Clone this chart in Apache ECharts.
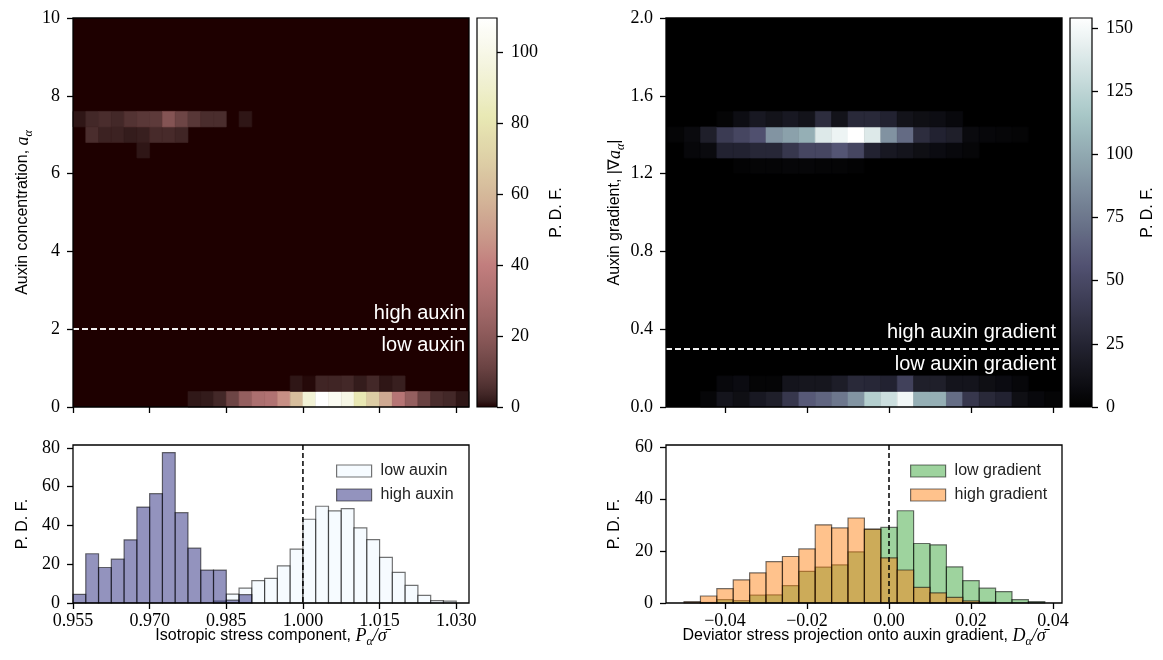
<!DOCTYPE html>
<html><head><meta charset="utf-8">
<script src="https://cdn.jsdelivr.net/npm/echarts@6/dist/echarts.min.js"></script>
<style>html,body{margin:0;padding:0;background:#fff}#c{width:1163px;height:660px}</style>
</head><body><div id="c"></div>
<script>
// ================= DATA =================
// Left: auxin concentration vs isotropic stress (bins: x 0.0025 from 0.955, y 0.4 from 0)
const auxinXStart = 0.955, auxinXBin = 0.0025, auxinYBin = 0.4;
const auxinXRange = [0.955, 1.0325];
const auxinYRange = [0, 10];
const auxinRows = [0, 1, 16, 17, 18];
const auxinRow0  = [0,0,0,0,0,0,0,0,0,1.6,1.8,4,12,23,31,33,45,62,93,109.6,104,99,81,68,54,35,23,11,5,4,1.5];
const auxinRow1  = [0,0,0,0,0,0,0,0,0,0,0,0,0,0,0,0,0,1.5,0.6,3.5,3.5,4,2,4,1.5,2.5,0,0,0,0,0];
const auxinRow16 = [0,0,0,0,0,1.5,0,0,0,0,0,0,0,0,0,0,0,0,0,0,0,0,0,0,0,0,0,0,0,0,0];
const auxinRow17 = [0,5,3,3,2,2.5,4.5,4.5,3.5,0,0,0,0,0,0,0,0,0,0,0,0,0,0,0,0,0,0,0,0,0,0];
const auxinRow18 = [1.5,4,5,4,6.5,8,8.5,18,12,7.5,5,5,0,1.5,0,0,0,0,0,0,0,0,0,0,0,0,0,0,0,0,0];
const auxinPdfMax = 109.6;
const auxinSplit = 2;
const highAuxin = [4.5,25.4,18.3,22.6,32.6,49.5,56.4,77.6,46.6,28.3,17.0,17.0,1.5,4.3,0,0,0,0,0,0,0,0,0,0,0,0,0,0,0,0,0];
const lowAuxin  = [0,0,0,0,0,0,0,0,0,0,0,1.0,4.6,7.7,11.5,12.7,19.2,27.8,43.2,49.9,47.5,48.7,38.7,32.7,23.5,15.8,9.1,3.9,1.2,1.0,0];
const auxinXTicks = [0.955, 0.970, 0.985, 1.000, 1.015, 1.030];
const auxinYTicks = [0, 2, 4, 6, 8, 10];
const auxinCbarTicks = [0, 20, 40, 60, 80, 100];
const auxinHistYTicks = [0, 20, 40, 60, 80];
const auxinHistYMax = 81.5;
const auxinRef = 1.0;

// Right: auxin gradient vs deviator stress projection (bins: x 0.004 from -0.054, y 0.08 from 0)
const gradXStart = -0.054, gradXBin = 0.004, gradYBin = 0.08;
const gradXRange = [-0.0544, 0.0422];
const gradYRange = [0, 2.0];
const gradRows = [0, 1, 15, 16, 17, 18];
const gradRow0  = [0,0,4,14,10,17,21,38,60,66,75,90,121,131,148,103,103,70,38,28,24,10,6,3];
const gradRow1  = [0,0,0,6,8,3,3,14,15,15,20,28,27,24,45,21,21,14,14,10,8,5,0,0];
const gradRow15 = [0,0,0,0,2,3,3,4,4,3,3,2,0,0,0,0,0,0,0,0,0,0,0,0];
const gradRow16 = [0,5,7,24,24,27,27,38,48,48,58,48,24,17,14,10,8,6,4,0,0,0,0,0];
const gradRow17 = [3,7,21,41,48,55,90,96,103,139,146,154,139,89,69,31,24,21,7,5,4,3,0,0];
const gradRow18 = [0,0,0,3,9,17,13,17,13,31,13,28,28,24,13,10,9,6,0,0,0,0,0,0];
const gradPdfMax = 154;
const gradSplit = 0.3;
const lowGrad  = [0,0,0.2,1.3,0.9,3.0,3.1,6.7,12.2,13.8,14.7,19.7,28.3,29.1,35.5,22.9,22.4,13.9,8.6,5.7,4.4,1.3,0.5,0];
const highGrad = [0,0.5,2.7,5.5,8.9,11.6,15.9,17.9,20.8,30.1,28.9,32.7,28.4,17.4,12.7,6.0,3.9,2.2,0.8,0.3,0,0,0,0];
const gradXTicks = [-0.04, -0.02, 0, 0.02, 0.04];
const gradYTicks = [0, 0.4, 0.8, 1.2, 1.6, 2.0];
const gradCbarTicks = [0, 25, 50, 75, 100, 125, 150];
const gradHistYTicks = [0, 20, 40, 60];
const gradHistYMax = 60.8;
const gradRef = 0;

// ================= COLORMAPS =================
function lerpSeg(pts, t){
  for (let i=1;i<pts.length;i++){
    if (t <= pts[i][0]) { const a=pts[i-1], b=pts[i]; return a[1] + (b[1]-a[1])*(t-a[0])/(b[0]-a[0]); }
  }
  return pts[pts.length-1][1];
}
function pinkRGB(t){
  const hr = lerpSeg([[0,0.0416],[0.365079,1],[1,1]], t);
  const hg = lerpSeg([[0,0],[0.365079,0],[0.746032,1],[1,1]], t);
  const hb = lerpSeg([[0,0],[0.746032,0],[1,1]], t);
  return [Math.sqrt((2*t+hr)/3), Math.sqrt((2*t+hg)/3), Math.sqrt((2*t+hb)/3)];
}
function boneRGB(t){
  return [lerpSeg([[0,0],[0.746032,0.652778],[1,1]], t),
          lerpSeg([[0,0],[0.365079,0.319444],[0.746032,0.777778],[1,1]], t),
          lerpSeg([[0,0],[0.365079,0.444444],[1,1]], t)];
}
function toHex(c){ return '#' + c.map(v => Math.round(Math.max(0,Math.min(1,v))*255).toString(16).padStart(2,'0')).join(''); }
const N = 60;
const pinkColors = [], boneColors = [], pinkStops = [], boneStops = [];
for (let i=0;i<=N;i++){
  const t=i/N; const p=toHex(pinkRGB(t)), b=toHex(boneRGB(t));
  pinkColors.push(p); boneColors.push(b);
  pinkStops.push({offset:t, color:p}); boneStops.push({offset:t, color:b});
}

// ================= BUILD =================
function buildCells(rows, rowArrays, x0, xb, yb){
  const out = [];
  rows.forEach((r, i) => {
    rowArrays[i].forEach((v, k) => {
      if (v > 0) out.push([x0 + k*xb, x0 + (k+1)*xb, r*yb, (r+1)*yb, v]);
    });
  });
  return out;
}
function buildBars(vals, x0, xb){
  const out = [];
  vals.forEach((v,k) => { if (v > 0) out.push([x0 + k*xb, x0 + (k+1)*xb, v]); });
  return out;
}
const auxinCells = buildCells(auxinRows, [auxinRow0, auxinRow1, auxinRow16, auxinRow17, auxinRow18], auxinXStart, auxinXBin, auxinYBin);
const gradCells = buildCells(gradRows, [gradRow0, gradRow1, gradRow15, gradRow16, gradRow17, gradRow18], gradXStart, gradXBin, gradYBin);

function cellRender(params, api){
  const a = api.coord([api.value(0), api.value(3)]);
  const b = api.coord([api.value(1), api.value(2)]);
  const c = api.visual('color');
  return {type:'rect', shape:{x:a[0], y:a[1], width:b[0]-a[0], height:b[1]-a[1]}, style:{fill:c, stroke:c, lineWidth:0.6}};
}
function barRender(fill, edge){
  return function(params, api){
    const a = api.coord([api.value(0), api.value(2)]);
    const b = api.coord([api.value(1), 0]);
    return {type:'rect', shape:{x:a[0], y:a[1], width:b[0]-a[0], height:b[1]-a[1]}, style:{fill:fill, stroke:edge, lineWidth:1.2}};
  };
}
function frameRender(params){
  const cs = params.coordSys;
  return {type:'rect', shape:{x:cs.x, y:cs.y, width:cs.width, height:cs.height}, style:{fill:'none', stroke:'#000', lineWidth:1.3}};
}
function refLineRender(params, api){
  const cs = params.coordSys;
  const p = api.coord([api.value(0), 0]);
  return {type:'line', shape:{x1:p[0], y1:cs.y, x2:p[0], y2:cs.y+cs.height},
    style:{stroke:'#000', lineWidth:1.5, lineDash:[5,3]}};
}
function cbarRender(stops){
  return function(params, api){
    const a = api.coord([api.value(0), api.value(3)]);
    const b = api.coord([api.value(1), api.value(2)]);
    return {type:'rect', shape:{x:a[0], y:a[1], width:b[0]-a[0], height:b[1]-a[1]},
      style:{fill:{type:'linear', x:0, y:1, x2:0, y2:0, colorStops:stops}, stroke:'#000', lineWidth:1.2}};
  };
}

// ================= STYLE =================
const SERIF = 'Liberation Serif', SANS = 'Liberation Sans';
const tickStyle = {show:true, length:6, lineStyle:{color:'#000', width:1.3}};
const labelBase = {fontFamily:SERIF, fontSize:18, color:'#000'};
const richMath = {
  n:  {fontFamily:SANS, fontSize:16, color:'#000', lineHeight:24, verticalAlign:'middle'},
  it: {fontFamily:SERIF, fontStyle:'italic', fontSize:18, color:'#000', lineHeight:24, verticalAlign:'middle'},
  sub:{fontFamily:SERIF, fontStyle:'italic', fontSize:12, color:'#000', lineHeight:13, verticalAlign:'bottom'}
};
const nameStyle = {fontFamily:SANS, fontSize:16, color:'#000', lineHeight:24, rich:richMath};

const fill = {
  low: 'rgba(240,248,255,0.6)', high: 'rgba(40,40,125,0.5)',
  lowG: 'rgba(44,160,44,0.46)', highG: 'rgba(255,127,14,0.48)'
};
const edge = 'rgba(0,0,0,0.55)';

function xAxisCfg(grid, range, ticks, showLabels, fmt, name){
  return {type:'value', gridIndex:grid, min:range[0], max:range[1], z:10, position:'bottom',
    axisLine:{show:false, onZero:false}, splitLine:{show:false},
    axisTick:Object.assign({customValues:ticks}, tickStyle),
    axisLabel:Object.assign({show:showLabels, customValues:ticks, margin:9, formatter:fmt}, labelBase),
    name:name||'', nameLocation:'middle', nameGap:21, nameMoveOverlap:false, nameTextStyle:nameStyle};
}
function yAxisCfg(grid, range, ticks, fmt, name, gap, pos){
  return {type:'value', gridIndex:grid, min:range[0], max:range[1], z:10, position:pos||'left',
    axisLine:{show:false, onZero:false}, splitLine:{show:false},
    axisTick:Object.assign({customValues:ticks}, tickStyle),
    axisLabel:Object.assign({customValues:ticks, margin:pos==='right'?14:13, formatter:fmt}, labelBase),
    name:name||'', nameLocation:'middle', nameGap:gap, nameRotate:90, nameMoveOverlap:false, nameTextStyle:nameStyle};
}
const hiddenAxis = (grid) => ({type:'value', gridIndex:grid, min:0, max:1, show:false, axisLine:{onZero:false}});
const minus = s => s.replace('-', '\u2212');

const option = {
  animation:false,
  backgroundColor:'#fff',
  grid:[
    {left:73, top:18, width:396, height:389, show:true, backgroundColor:pinkColors[0], borderWidth:0},
    {left:477, top:18, width:20, height:389},
    {left:666, top:18, width:396, height:389, show:true, backgroundColor:boneColors[0], borderWidth:0},
    {left:1070, top:18, width:22, height:389},
    {left:73, top:445, width:396, height:158},
    {left:666, top:445, width:396, height:158}
  ],
  visualMap:[
    {type:'continuous', show:false, seriesIndex:0, dimension:4, min:0, max:auxinPdfMax, inRange:{color:pinkColors}},
    {type:'continuous', show:false, seriesIndex:3, dimension:4, min:0, max:gradPdfMax, inRange:{color:boneColors}}
  ],
  xAxis:[
    xAxisCfg(0, auxinXRange, auxinXTicks, false),
    hiddenAxis(1),
    xAxisCfg(2, gradXRange, gradXTicks, false),
    hiddenAxis(3),
    xAxisCfg(4, auxinXRange, auxinXTicks, true, v => v.toFixed(3),
      '{n|Isotropic stress component, }{it|P}{sub|α}{it|/σ\u0304}'),
    xAxisCfg(5, gradXRange, gradXTicks, true, v => minus(v.toFixed(2)),
      '{n|Deviator stress projection onto auxin gradient, }{it|D}{sub|α}{it|/σ\u0304}')
  ],
  yAxis:[
    yAxisCfg(0, auxinYRange, auxinYTicks, v => String(v), '{n|Auxin concentration, }{it|a}{sub|α}', 38),
    yAxisCfg(1, [0, auxinPdfMax], auxinCbarTicks, v => String(v), '{n|P. D. F.}', 48, 'right'),
    yAxisCfg(2, gradYRange, gradYTicks, v => v.toFixed(1), '{n|Auxin gradient, |∇}{it|a}{sub|α}{n||}', 39),
    yAxisCfg(3, [0, gradPdfMax], gradCbarTicks, v => String(v), '{n|P. D. F.}', 44, 'right'),
    yAxisCfg(4, [0, auxinHistYMax], auxinHistYTicks, v => String(v), '{n|P. D. F.}', 38),
    yAxisCfg(5, [0, gradHistYMax], gradHistYTicks, v => String(v), '{n|P. D. F.}', 39)
  ],
  legend:[
    {orient:'vertical', left:331, top:458, itemWidth:35, itemHeight:12, itemGap:8, selectedMode:false, icon:'rect',
      textStyle:{fontFamily:SANS, fontSize:16, color:'#222', lineHeight:16, padding:[0,0,0,4]},
      data:[{name:'low auxin', itemStyle:{color:fill.low, borderColor:edge, borderWidth:1.2}},
            {name:'high auxin', itemStyle:{color:fill.high, borderColor:edge, borderWidth:1.2}}]},
    {orient:'vertical', left:905, top:458, itemWidth:35, itemHeight:12, itemGap:8, selectedMode:false, icon:'rect',
      textStyle:{fontFamily:SANS, fontSize:16, color:'#222', lineHeight:16, padding:[0,0,0,4]},
      data:[{name:'low gradient', itemStyle:{color:fill.lowG, borderColor:edge, borderWidth:1.2}},
            {name:'high gradient', itemStyle:{color:fill.highG, borderColor:edge, borderWidth:1.2}}]}
  ],
  series:[
    // 0 left heatmap
    {type:'custom', xAxisIndex:0, yAxisIndex:0, data:auxinCells, encode:{x:[0,1], y:[2,3]}, renderItem:cellRender, z:2, silent:true,
      markLine:{silent:true, symbol:'none', animation:false, lineStyle:{color:'#fff', type:[6,3], width:1.5},
        data:[
          {yAxis:auxinSplit, label:{show:true, position:'insideEndTop', formatter:'high auxin', color:'#fff', fontFamily:SANS, fontSize:20, distance:[4,6]}},
          {yAxis:auxinSplit, label:{show:true, position:'insideEndBottom', formatter:'low auxin', color:'#fff', fontFamily:SANS, fontSize:20, distance:[4,6]}}
        ]}},
    // 1 left frame
    {type:'custom', xAxisIndex:0, yAxisIndex:0, data:[[auxinXRange[0], 0]], renderItem:frameRender, z:10, silent:true},
    // 2 left colorbar
    {type:'custom', xAxisIndex:1, yAxisIndex:1, data:[[0,1,0,auxinPdfMax]], encode:{x:[0,1], y:[2,3]}, renderItem:cbarRender(pinkStops), z:2, silent:true},
    // 3 right heatmap
    {type:'custom', xAxisIndex:2, yAxisIndex:2, data:gradCells, encode:{x:[0,1], y:[2,3]}, renderItem:cellRender, z:2, silent:true,
      markLine:{silent:true, symbol:'none', animation:false, lineStyle:{color:'#fff', type:[6,3], width:1.5},
        data:[
          {yAxis:gradSplit, label:{show:true, position:'insideEndTop', formatter:'high auxin gradient', color:'#fff', fontFamily:SANS, fontSize:20, distance:[6,6]}},
          {yAxis:gradSplit, label:{show:true, position:'insideEndBottom', formatter:'low auxin gradient', color:'#fff', fontFamily:SANS, fontSize:20, distance:[6,6]}}
        ]}},
    // 4 right frame
    {type:'custom', xAxisIndex:2, yAxisIndex:2, data:[[gradXRange[0], 0]], renderItem:frameRender, z:10, silent:true},
    // 5 right colorbar
    {type:'custom', xAxisIndex:3, yAxisIndex:3, data:[[0,1,0,gradPdfMax]], encode:{x:[0,1], y:[2,3]}, renderItem:cbarRender(boneStops), z:2, silent:true},
    // left histogram
    {name:'low auxin', type:'custom', xAxisIndex:4, yAxisIndex:4, data:buildBars(lowAuxin, auxinXStart, auxinXBin), encode:{x:[0,1], y:2},
      itemStyle:{color:fill.low, borderColor:edge, borderWidth:1.2}, renderItem:barRender(fill.low, edge), z:2, silent:true},
    {name:'high auxin', type:'custom', xAxisIndex:4, yAxisIndex:4, data:buildBars(highAuxin, auxinXStart, auxinXBin), encode:{x:[0,1], y:2},
      itemStyle:{color:fill.high, borderColor:edge, borderWidth:1.2}, renderItem:barRender(fill.high, edge), z:3, silent:true},
    {type:'custom', xAxisIndex:4, yAxisIndex:4, data:[[auxinRef, 0]], renderItem:refLineRender, z:9, silent:true},
    {type:'custom', xAxisIndex:4, yAxisIndex:4, data:[[auxinXRange[0], 0]], renderItem:frameRender, z:10, silent:true},
    // right histogram
    {name:'low gradient', type:'custom', xAxisIndex:5, yAxisIndex:5, data:buildBars(lowGrad, gradXStart, gradXBin), encode:{x:[0,1], y:2},
      itemStyle:{color:fill.lowG, borderColor:edge, borderWidth:1.2}, renderItem:barRender(fill.lowG, edge), z:2, silent:true},
    {name:'high gradient', type:'custom', xAxisIndex:5, yAxisIndex:5, data:buildBars(highGrad, gradXStart, gradXBin), encode:{x:[0,1], y:2},
      itemStyle:{color:fill.highG, borderColor:edge, borderWidth:1.2}, renderItem:barRender(fill.highG, edge), z:3, silent:true},
    {type:'custom', xAxisIndex:5, yAxisIndex:5, data:[[gradRef, 0]], renderItem:refLineRender, z:9, silent:true},
    {type:'custom', xAxisIndex:5, yAxisIndex:5, data:[[gradXRange[0], 0]], renderItem:frameRender, z:10, silent:true}
  ]
};
const chart = echarts.init(document.getElementById('c'), null, {renderer:'canvas'});
chart.setOption(option);
</script></body></html>
